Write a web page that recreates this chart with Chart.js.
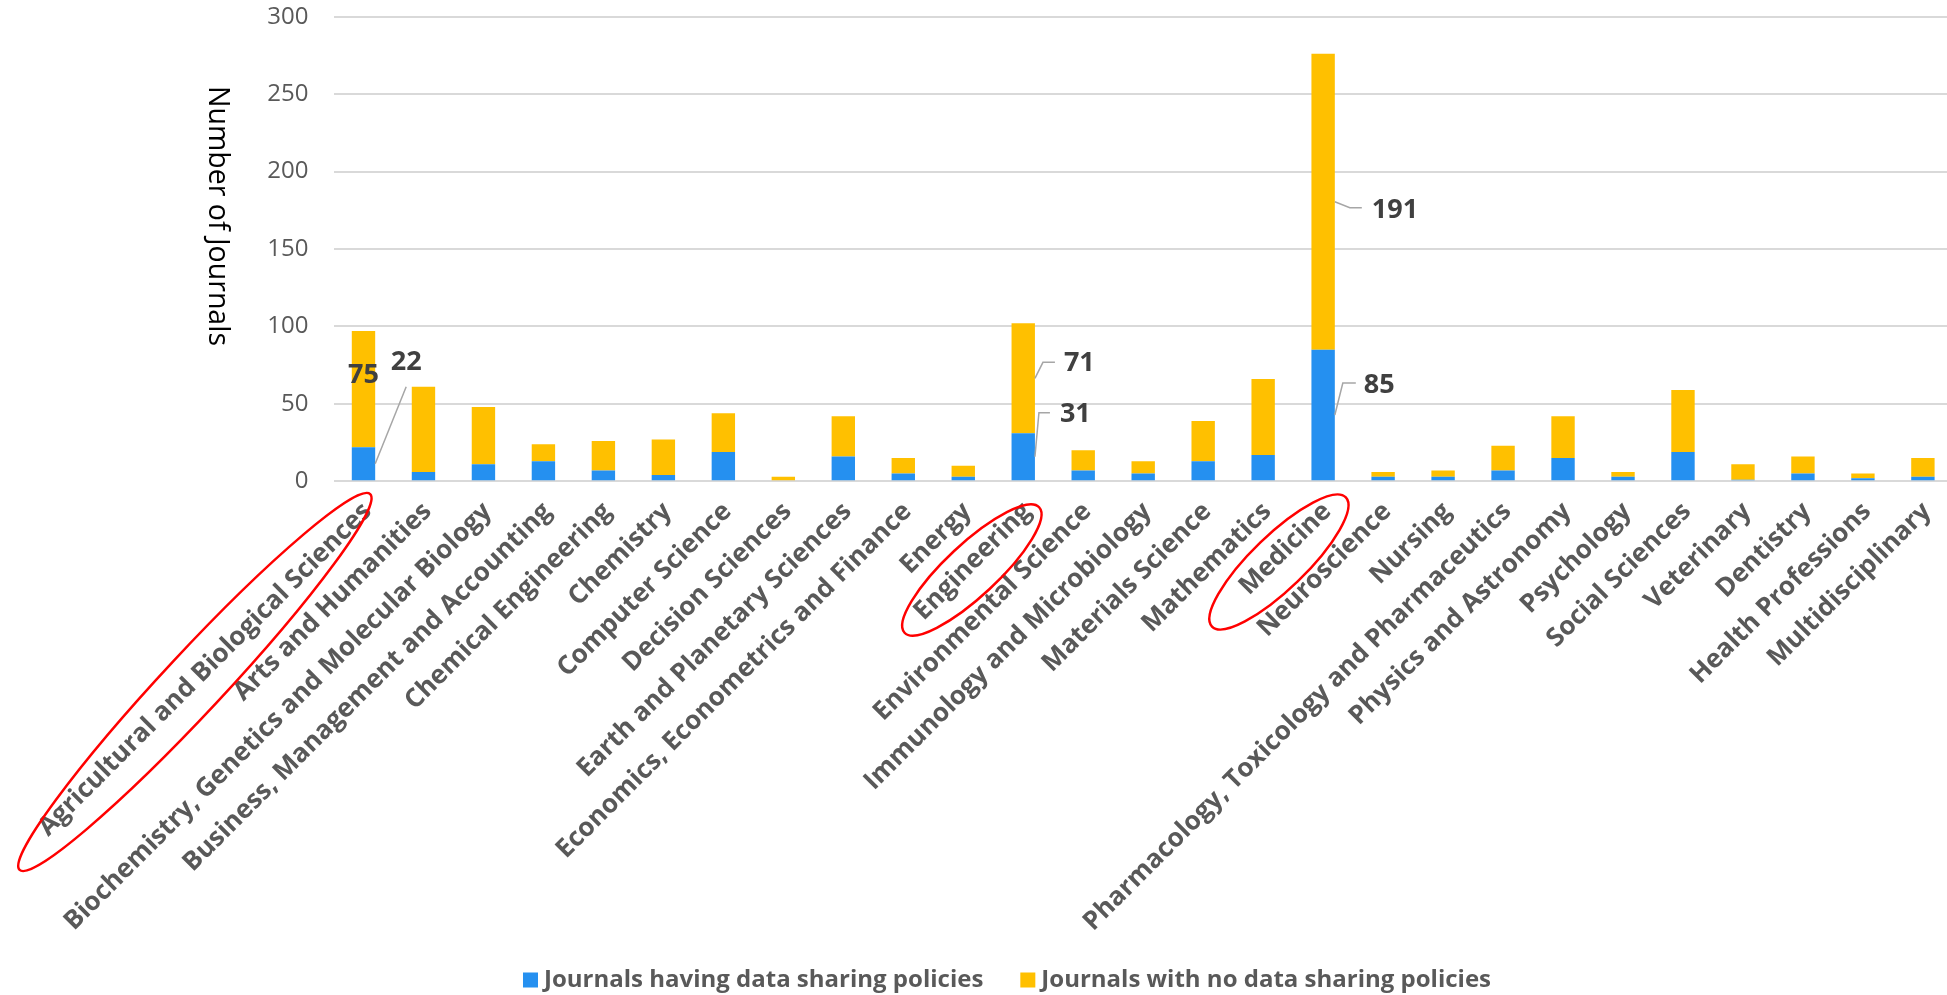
<!DOCTYPE html>
<html>
<head>
<meta charset="utf-8">
<script src="https://cdn.jsdelivr.net/npm/chart.js@4.4.0/dist/chart.umd.min.js"></script>
<style>
    html, body { margin: 0; padding: 0; background: #fff; overflow: hidden; }
    #wrap { position: relative; width: 1960px; height: 995px; }
</style>
</head>
<body>
<div id="wrap"><canvas id="journalChart"></canvas></div>
<script>
// 분야(카테고리)
const categories = [
    "Agricultural and Biological Sciences",
    "Arts and Humanities",
    "Biochemistry, Genetics and Molecular Biology",
    "Business, Management and Accounting",
    "Chemical Engineering",
    "Chemistry",
    "Computer Science",
    "Decision Sciences",
    "Earth and Planetary Sciences",
    "Economics, Econometrics and Finance",
    "Energy",
    "Engineering",
    "Environmental Science",
    "Immunology and Microbiology",
    "Materials Science",
    "Mathematics",
    "Medicine",
    "Neuroscience",
    "Nursing",
    "Pharmacology, Toxicology and Pharmaceutics",
    "Physics and Astronomy",
    "Psychology",
    "Social Sciences",
    "Veterinary",
    "Dentistry",
    "Health Professions",
    "Multidisciplinary"
];

// 데이터 공유 정책이 있는 저널 수
const withPolicy = [22, 6, 11, 13, 7, 4, 19, 0, 16, 5, 3, 31, 7, 5, 13, 17, 85, 3, 3, 7, 15, 3, 19, 1, 5, 2, 3];
// 데이터 공유 정책이 없는 저널 수
const noPolicy = [75, 55, 37, 11, 19, 23, 25, 3, 26, 10, 7, 71, 13, 8, 26, 49, 191, 3, 4, 16, 27, 3, 40, 10, 11, 3, 12];

const seriesNames = ["Journals having data sharing policies", "Journals with no data sharing policies"];
const seriesColors = ["#2590f0", "#ffc000"];
const yTicks = [0, 50, 100, 150, 200, 250, 300];
const yTitle = "Number of Journals";

// 값 라벨을 붙일 분야
const labeledCategories = ["Agricultural and Biological Sciences", "Engineering", "Medicine"];

// 라벨 위치 (막대 오른쪽 가장자리 / 구간 중앙 기준 오프셋)
const calloutStyle = {
    "Agricultural and Biological Sciences": [
        { line: [[31, -77]], text: [31, -101], align: "center" },
        { line: null, text: [-11.7, -14], align: "center" }
    ],
    "Engineering": [
        { line: [[4, -44], [15, -44]], text: [25, -42], align: "left" },
        { line: [[8, -16], [20, -16]], text: [29, -15], align: "left" }
    ],
    "Medicine": [
        { line: [[8, -32], [21, -32]], text: [29, -30], align: "left" },
        { line: [[15, 6], [27, 6]], text: [37, 9], align: "left" }
    ]
};

// 강조 타원 (눈금 위치 기준)
const highlightEllipses = [
    { category: "Agricultural and Biological Sciences", dx: -168.6, dy: 200.7, rx: 257, ry: 30, angle: -47 },
    { category: "Engineering", dx: -51.4, dy: 88.7, rx: 92, ry: 26, angle: -43 },
    { category: "Medicine", dx: -44.2, dy: 80.7, rx: 93, ry: 27, angle: -44 }
];

const FONT = "'Open Sans', 'Noto Sans', sans-serif";

/* 값 라벨 + 지시선 */
const calloutPlugin = {
    id: "callouts",
    afterDatasetsDraw(chart) {
        const ctx = chart.ctx;
        ctx.save();
        labeledCategories.forEach(cat => {
            const i = categories.indexOf(cat);
            calloutStyle[cat].forEach((st, dsIndex) => {
                const bar = chart.getDatasetMeta(dsIndex).data[i].getProps(["x", "y", "base", "width"], true);
                const value = chart.data.datasets[dsIndex].data[i];
                const ax = bar.x + bar.width / 2;
                const ay = (bar.y + bar.base) / 2;
                if (st.line) {
                    ctx.strokeStyle = "#a6a6a6";
                    ctx.lineWidth = 1.5;
                    ctx.beginPath();
                    ctx.moveTo(ax, ay);
                    st.line.forEach(p => ctx.lineTo(ax + p[0], ay + p[1]));
                    ctx.stroke();
                }
                ctx.fillStyle = "#404040";
                ctx.font = "bold 27px " + FONT;
                ctx.textAlign = st.align;
                ctx.textBaseline = "middle";
                ctx.fillText(String(value), ax + st.text[0], ay + st.text[1]);
            });
        });
        ctx.restore();
    }
};

/* 축 제목, 강조 타원, 범례 */
const decorPlugin = {
    id: "decor",
    afterDraw(chart) {
        const ctx = chart.ctx;
        const xs = chart.scales.x;
        ctx.save();

        // y축 제목 (위에서 아래로)
        ctx.translate(217, 216);
        ctx.rotate(Math.PI / 2);
        ctx.fillStyle = "#000";
        ctx.font = "28.5px " + FONT;
        ctx.textAlign = "center";
        ctx.textBaseline = "middle";
        ctx.fillText(yTitle, 0, 0);
        ctx.setTransform(1, 0, 0, 1, 0, 0);

        // 빨간 타원
        ctx.strokeStyle = "#ff0000";
        ctx.lineWidth = 2.5;
        highlightEllipses.forEach(e => {
            const cx = xs.getPixelForValue(categories.indexOf(e.category)) + e.dx;
            const cy = xs.top + e.dy;
            ctx.beginPath();
            ctx.ellipse(cx, cy, e.rx, e.ry, e.angle * Math.PI / 180, 0, Math.PI * 2);
            ctx.stroke();
        });

        // 범례
        ctx.font = "bold 24px " + FONT;
        ctx.textAlign = "left";
        ctx.textBaseline = "middle";
        const box = 15, gapText = 6, gapItem = 37, ly = 980;
        const widths = seriesNames.map(n => ctx.measureText(n).width);
        const total = widths.reduce((s, w) => s + box + gapText + w, 0) + gapItem;
        let lx = 1007 - total / 2;
        seriesNames.forEach((n, k) => {
            ctx.fillStyle = seriesColors[k];
            ctx.fillRect(lx, ly - box / 2, box, box);
            ctx.fillStyle = "#595959";
            ctx.fillText(n, lx + box + gapText, ly);
            lx += box + gapText + widths[k] + gapItem;
        });
        ctx.restore();
    }
};

const ctx = document.getElementById("journalChart").getContext("2d");
const journalChart = new Chart(ctx, {
    type: "bar",
    data: {
        labels: categories,
        datasets: [
            {
                label: seriesNames[0],
                data: withPolicy,
                backgroundColor: seriesColors[0],
                borderWidth: 0,
                categoryPercentage: 1,
                barPercentage: 0.39
            },
            {
                label: seriesNames[1],
                data: noPolicy,
                backgroundColor: seriesColors[1],
                borderWidth: 0,
                categoryPercentage: 1,
                barPercentage: 0.39
            }
        ]
    },
    options: {
        responsive: true,
        maintainAspectRatio: false,
        animation: false,
        devicePixelRatio: 1,
        layout: { padding: { top: 16.7, right: 2, bottom: 0, left: 0 } },
        plugins: {
            legend: { display: false },
            tooltip: { enabled: false }
        },
        scales: {
            x: {
                stacked: true,
                grid: { display: false, drawTicks: false },
                border: { display: false },
                ticks: {
                    autoSkip: false,
                    maxRotation: 45,
                    minRotation: 45,
                    padding: 15,
                    labelOffset: 4,
                    color: "#595959",
                    font: { family: FONT, size: 26, weight: "bold" }
                },
                afterFit(scale) { scale.height = 995 - 481.3; }
            },
            y: {
                stacked: true,
                min: 0,
                max: 300,
                afterBuildTicks(scale) { scale.ticks = yTicks.map(v => ({ value: v })); },
                grid: { color: "#d9d9d9", lineWidth: 2, drawTicks: false },
                border: { display: false },
                ticks: {
                    padding: 25,
                    color: "#595959",
                    font: { family: FONT, size: 24 }
                },
                afterFit(scale) {
                    scale.width = 333.5;
                    // 눈금 간격이 위아래 여백에 더해지지 않도록
                    scale.paddingTop = 10;
                    scale.paddingBottom = 10;
                }
            }
        }
    },
    plugins: [calloutPlugin, decorPlugin]
});
</script>
</body>
</html>
